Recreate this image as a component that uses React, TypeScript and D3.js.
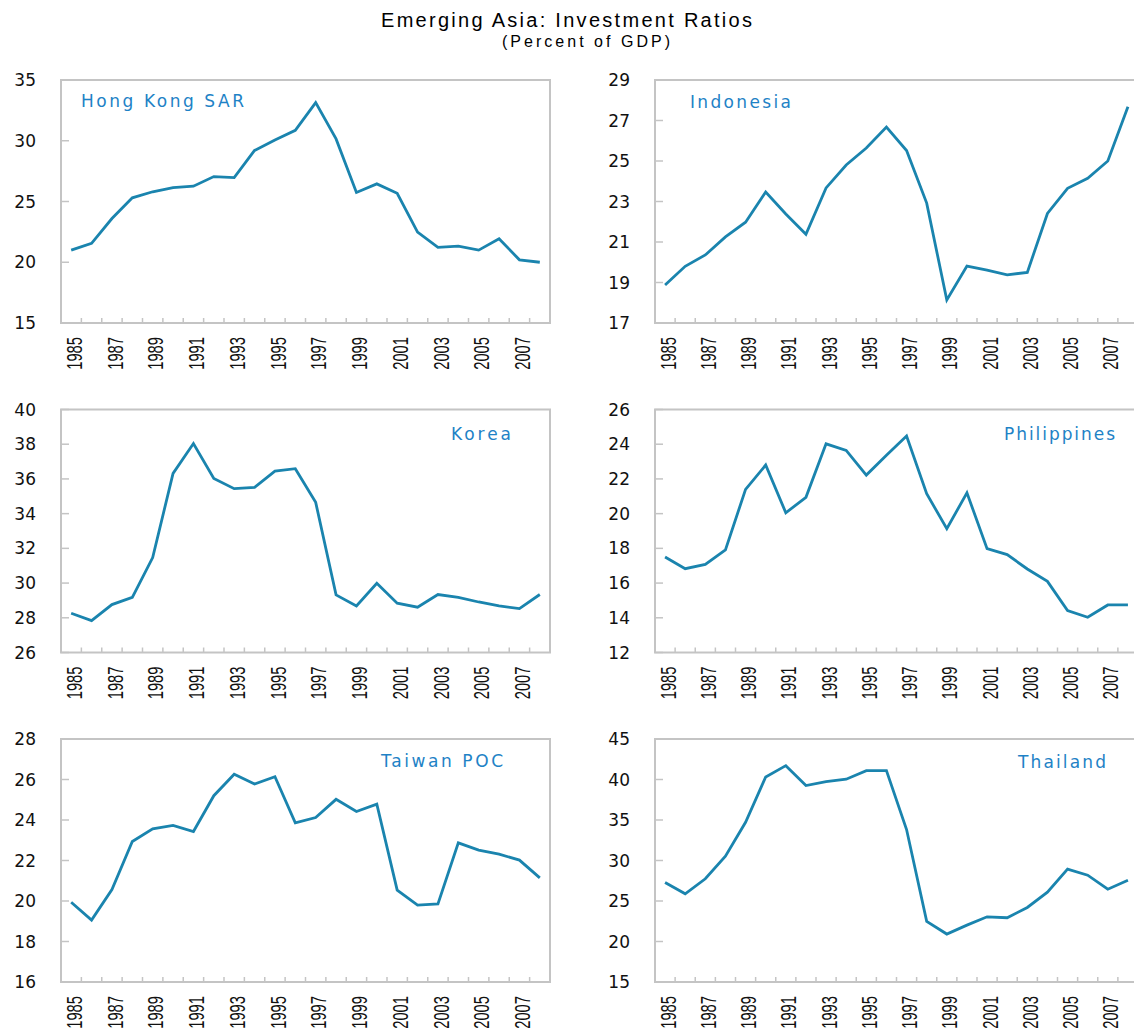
import React from "react";
import * as d3 from "d3";

const years = [
  "1985","1986","1987","1988","1989","1990","1991","1992","1993","1994","1995","1996",
  "1997","1998","1999","2000","2001","2002","2003","2004","2005","2006","2007","2008",
];
const yearLabels = ["1985","1987","1989","1991","1993","1995","1997","1999","2001","2003","2005","2007"];

const hongKong = [21.0,21.55,23.6,25.3,25.8,26.15,26.26,27.05,26.97,29.2,30.07,30.86,33.14,30.15,25.74,26.45,25.68,22.48,21.22,21.33,21.0,21.93,20.2,20.0];
const indonesia = [18.88,19.8,20.36,21.25,21.98,23.47,22.38,21.38,23.67,24.8,25.64,26.68,25.52,22.92,18.14,19.81,19.61,19.38,19.5,22.41,23.65,24.15,25.0,27.68];
const korea = [28.26,27.84,28.76,29.18,31.47,36.32,38.04,36.03,35.44,35.51,36.45,36.59,34.65,29.32,28.68,29.99,28.84,28.61,29.34,29.18,28.91,28.68,28.53,29.34];
const philippines = [17.5,16.83,17.08,17.91,21.4,22.8,20.05,20.94,24.02,23.64,22.22,23.37,24.47,21.15,19.13,21.2,17.98,17.64,16.81,16.1,14.42,14.03,14.74,14.74];
const taiwan = [19.94,19.06,20.57,22.94,23.56,23.73,23.43,25.2,26.26,25.78,26.14,23.86,24.12,25.02,24.42,24.78,20.54,19.8,19.86,22.87,22.51,22.31,22.02,21.14];
const thailand = [27.29,25.89,27.74,30.53,34.72,40.31,41.71,39.25,39.74,40.03,41.1,41.1,33.82,22.48,20.92,22.02,23.05,22.93,24.2,26.09,28.93,28.19,26.46,27.57];

const hkTicks = [15,20,25,30,35];
const idTicks = [17,19,21,23,25,27,29];
const krTicks = [26,28,30,32,34,36,38,40];
const phTicks = [12,14,16,18,20,22,24,26];
const twTicks = [16,18,20,22,24,26,28];
const thTicks = [15,20,25,30,35,40,45];

const names = ["Hong Kong SAR","Indonesia","Korea","Philippines","Taiwan POC","Thailand"];

const title = "Emerging Asia: Investment Ratios";
const subtitle = "(Percent of GDP)";

const LINE = "#1a84ae";
const LABEL = "#1e82c6";
const BOX = "#c4c4c4";

type Panel = {
  name: string;
  values: number[];
  ticks: number[];
  x0: number; x1: number; top: number;
  labelX: number; labelY: number; labelW: number;
};

const H = 243;
const colX = [[61, 550], [655, 1138]];
const rowTop = [80, 409.5, 739];

const panels: Panel[] = [
  { name: names[0], values: hongKong, ticks: hkTicks, x0: colX[0][0], x1: colX[0][1], top: rowTop[0], labelX: 81, labelY: 107, labelW: 163 },
  { name: names[1], values: indonesia, ticks: idTicks, x0: colX[1][0], x1: colX[1][1], top: rowTop[0], labelX: 690, labelY: 107.5, labelW: 101 },
  { name: names[2], values: korea, ticks: krTicks, x0: colX[0][0], x1: colX[0][1], top: rowTop[1], labelX: 451, labelY: 440, labelW: 60 },
  { name: names[3], values: philippines, ticks: phTicks, x0: colX[1][0], x1: colX[1][1], top: rowTop[1], labelX: 1004, labelY: 440, labelW: 111 },
  { name: names[4], values: taiwan, ticks: twTicks, x0: colX[0][0], x1: colX[0][1], top: rowTop[2], labelX: 381, labelY: 767, labelW: 122 },
  { name: names[5], values: thailand, ticks: thTicks, x0: colX[1][0], x1: colX[1][1], top: rowTop[2], labelX: 1018, labelY: 768, labelW: 88 },
];

function PanelView({ p }: { p: Panel }) {
  const x = d3.scaleBand<string>().domain(years).range([p.x0, p.x1]).padding(0);
  const y = d3.scaleLinear().domain([p.ticks[0], p.ticks[p.ticks.length - 1]]).range([p.top + H, p.top]);
  const bw = x.bandwidth();
  const line = d3.line<number>()
    .x((_, i) => (x(years[i]) as number) + bw / 2)
    .y((d) => y(d));
  const bottom = p.top + H;
  return (
    <g>
      <rect x={p.x0} y={p.top} width={p.x1 - p.x0} height={H} fill="none" stroke={BOX} strokeWidth={2} />
      {p.ticks.map((t) => (
        <g key={"y" + t}>
          <line x1={p.x0} x2={p.x0 + 8} y1={y(t)} y2={y(t)} stroke={BOX} strokeWidth={1.5} />
          <text x={p.x0 - 25} y={y(t)} textAnchor="end" dominantBaseline="central"
            fontFamily="DejaVu Sans, Verdana, sans-serif" fontSize={17} fill="#111">{t}</text>
        </g>
      ))}
      {years.slice(1).map((yr) => (
        <line key={"xt" + yr} x1={x(yr) as number} x2={x(yr) as number} y1={bottom} y2={bottom - 5}
          stroke={BOX} strokeWidth={1.5} />
      ))}
      {yearLabels.map((yr) => {
        const cx = (x(yr) as number) + bw / 2 + 3;
        return (
          <text key={"xl" + yr} transform={`translate(${cx},${bottom + 14}) rotate(-90) scale(0.67,1)`}
            textAnchor="end" dominantBaseline="central"
            fontFamily="Liberation Sans, Arial, sans-serif" fontSize={22} fill="#111">{yr}</text>
        );
      })}
      <path d={line(p.values) || ""} fill="none" stroke={LINE} strokeWidth={2.8} strokeLinejoin="miter" />
      <text x={p.labelX} y={p.labelY} textLength={p.labelW} lengthAdjust="spacing"
        fontFamily="DejaVu Sans, Verdana, sans-serif" fontSize={17} fill={LABEL}>{p.name}</text>
    </g>
  );
}

export default function App() {
  return (
    <svg width={1134} height={1032} style={{ display: "block", position: "absolute", left: 0, top: 0, background: "#fff" }}>
      <rect x={0} y={0} width={1134} height={1032} fill="#fff" />
      <text x={381} y={27} textLength={371} lengthAdjust="spacing"
        fontFamily="Liberation Sans, Arial, sans-serif" fontSize={20} fill="#000">{title}</text>
      <text x={502} y={47} textLength={168} lengthAdjust="spacing"
        fontFamily="Liberation Sans, Arial, sans-serif" fontSize={16} fill="#000">{subtitle}</text>
      {panels.map((p) => <PanelView key={p.name} p={p} />)}
    </svg>
  );
}
